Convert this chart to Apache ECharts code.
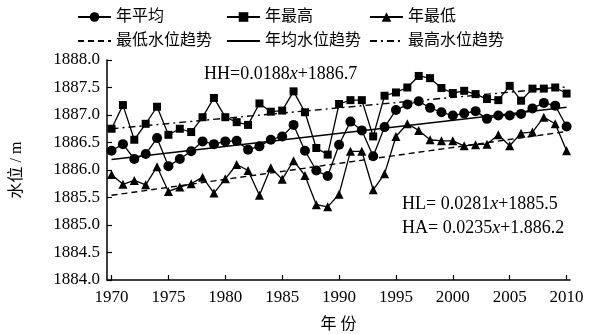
<!DOCTYPE html>
<html><head><meta charset="utf-8">
<script src="https://cdn.jsdelivr.net/npm/echarts@6/dist/echarts.min.js"></script>
<style>html,body{margin:0;padding:0;background:#fff}#c{width:593px;height:334px}</style>
</head><body><div id="c"></div>
<script>
const years = [1970,1971,1972,1973,1974,1975,1976,1977,1978,1979,1980,1981,1982,1983,1984,1985,1986,1987,1988,1989,1990,1991,1992,1993,1994,1995,1996,1997,1998,1999,2000,2001,2002,2003,2004,2005,2006,2007,2008,2009,2010];
const yearMean = [1886.35,1886.47,1886.20,1886.29,1886.58,1886.07,1886.20,1886.34,1886.52,1886.47,1886.52,1886.53,1886.37,1886.43,1886.55,1886.61,1886.82,1886.35,1885.99,1885.89,1886.46,1886.88,1886.72,1886.25,1886.78,1887.09,1887.19,1887.25,1887.13,1887.05,1886.99,1887.03,1887.07,1886.93,1886.99,1886.99,1887.02,1887.12,1887.22,1887.17,1886.79];
const yearMax = [1886.75,1887.18,1886.55,1886.84,1887.15,1886.64,1886.75,1886.69,1886.96,1887.31,1886.96,1886.87,1886.82,1887.21,1887.06,1887.08,1887.43,1887.05,1886.40,1886.28,1887.20,1887.27,1887.27,1886.61,1887.35,1887.41,1887.50,1887.71,1887.67,1887.49,1887.40,1887.44,1887.38,1887.29,1887.27,1887.53,1887.26,1887.48,1887.48,1887.50,1887.39];
const yearMin = [1885.92,1885.74,1885.81,1885.73,1886.06,1885.61,1885.69,1885.75,1885.87,1885.58,1885.84,1886.10,1885.99,1885.54,1886.04,1885.83,1886.17,1885.90,1885.37,1885.33,1885.56,1886.34,1886.34,1885.64,1885.93,1886.61,1886.84,1886.72,1886.55,1886.53,1886.53,1886.44,1886.46,1886.47,1886.64,1886.44,1886.67,1886.69,1886.96,1886.84,1886.35];
const trendYears = [1970, 2010];
const trendLow = [1885.54, 1886.70];
const trendMean = [1886.19, 1887.14];
const trendHigh = [1886.75, 1887.51];
const xTicks = [1970,1975,1980,1985,1990,1995,2000,2005,2010];
const names = ['年平均','年最高','年最低','最低水位趋势','年均水位趋势','最高水位趋势'];

const serif = '"Liberation Serif","Times New Roman",serif';
const cjk = '"Liberation Serif","Noto Sans CJK SC",serif';
const pair = (xs, ys) => xs.map((x, i) => [x, ys[i]]);

const chart = echarts.init(document.getElementById('c'), null, {renderer: 'canvas'});
const legendPos = [
  [77, 9], [226, 9], [369, 9],
  [77, 33], [226, 33], [369, 33]
];
const legends = names.map((n, i) => ({
  data: [n], left: legendPos[i][0], top: legendPos[i][1], padding: 0,
  itemWidth: 33, itemHeight: 12, selectedMode: false,
  itemStyle: i >= 3 ? {color: 'transparent', borderWidth: 0} : {},
  textStyle: {fontFamily: cjk, fontSize: 16, color: '#000'}
}));
const dataLine = {color: '#000', width: 1.3};
const rich = {a: {fontFamily: serif, fontSize: 18, fill: '#000'}, i: {fontFamily: serif, fontSize: 18, fontStyle: 'italic', fill: '#000'}};
chart.setOption({
  animation: false,
  backgroundColor: '#fff',
  legend: legends,
  grid: {left: 107, right: 23, top: 60, bottom: 54, containLabel: false, outerBoundsMode: 'none'},
  xAxis: {
    type: 'value', min: 1969.6, max: 2010.3,
    name: '年 份', nameLocation: 'middle', nameGap: 37,
    nameTextStyle: {fontFamily: cjk, fontSize: 16, color: '#000'},
    axisLine: {lineStyle: {color: '#000', width: 1.5}},
    axisTick: {inside: true, length: 5, customValues: xTicks, lineStyle: {color: '#000', width: 1.2}},
    axisLabel: {customValues: xTicks, formatter: v => String(v), fontFamily: serif, fontSize: 17, color: '#000', margin: 9},
    splitLine: {show: false}
  },
  yAxis: {
    type: 'value', min: 1884, max: 1888, interval: 0.5,
    name: '水位 / m', nameLocation: 'middle', nameGap: 82, nameRotate: 90,
    nameTextStyle: {fontFamily: cjk, fontSize: 16, color: '#000'},
    axisLine: {show: true, lineStyle: {color: '#000', width: 1.5}},
    axisTick: {show: true, inside: true, length: 5, lineStyle: {color: '#000', width: 1.2}},
    axisLabel: {formatter: v => v.toFixed(1), fontFamily: serif, fontSize: 17, color: '#000', margin: 7},
    splitLine: {show: false}
  },
  series: [
    {name: names[0], type: 'line', data: pair(years, yearMean), symbol: 'circle', symbolSize: 10,
     itemStyle: {color: '#000'}, lineStyle: dataLine, z: 5},
    {name: names[1], type: 'line', data: pair(years, yearMax), symbol: 'rect', symbolSize: 8,
     itemStyle: {color: '#000'}, lineStyle: dataLine, z: 5},
    {name: names[2], type: 'line', data: pair(years, yearMin), symbol: 'triangle', symbolSize: 9,
     itemStyle: {color: '#000'}, lineStyle: dataLine, z: 5},
    {name: names[3], type: 'line', data: pair(trendYears, trendLow), symbol: 'none',
     itemStyle: {color: '#000'}, lineStyle: {color: '#000', width: 1.4, type: [6, 4]}},
    {name: names[4], type: 'line', data: pair(trendYears, trendMean), symbol: 'none',
     itemStyle: {color: '#000'}, lineStyle: {color: '#000', width: 1.4, type: 'solid'}},
    {name: names[5], type: 'line', data: pair(trendYears, trendHigh), symbol: 'none',
     itemStyle: {color: '#000'}, lineStyle: {color: '#000', width: 1.4, type: [7, 4, 2, 4]}}
  ],
  graphic: [
    {type: 'text', left: 204, top: 65, style: {text: '{a|HH=0.0188}{i|x}{a|+1886.7}', rich}},
    {type: 'text', left: 402, top: 195, style: {text: '{a|HL= 0.0281}{i|x}{a|+1885.5}', rich}},
    {type: 'text', left: 402, top: 219, style: {text: '{a|HA= 0.0235}{i|x}{a|+1.886.2}', rich}}
  ]
});
</script></body></html>
